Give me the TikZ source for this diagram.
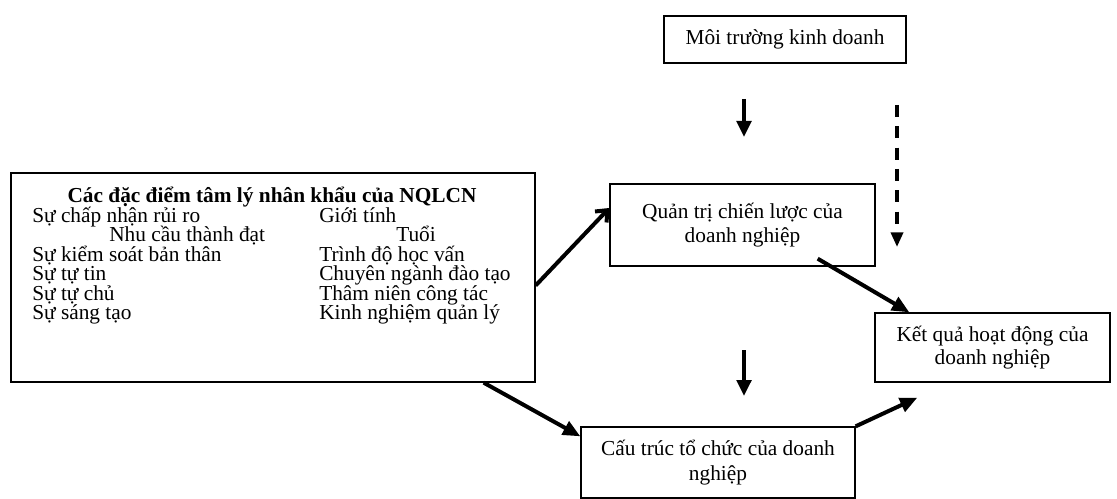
\documentclass[tikz,border=0pt]{standalone}
\usepackage{fontspec}
\setmainfont{Liberation Serif}
\usetikzlibrary{arrows.meta,calc}

\begin{document}
\begin{tikzpicture}[
  x=0.75pt, y=-0.75pt,
  every node/.style={font=\fontsize{16}{20}\selectfont},
  box/.style={rectangle, draw, line width=1pt, align=center, inner sep=0pt},
  item/.style={anchor=base west, inner sep=0pt},
  flow/.style={-{Triangle[length=13pt,width=11pt]}, line width=3pt},
  barb/.style={-{Straight Barb[length=7pt,width=12pt]}, line width=3pt},
  push/.style={-{Triangle[length=12pt,width=11pt]}, line width=2.6pt},
  hint/.style={-{Triangle[length=11pt,width=9pt]}, line width=2.6pt,
               dash pattern=on 9pt off 7pt}
]
\useasboundingbox (0,0) rectangle (1117,499);

\def\colL{32}
\def\colR{319}

% boxes
\node[box, minimum width=242*0.75pt, minimum height=47*0.75pt]
  at (785,39.5) (moitruong) {Môi trường kinh doanh};
\node[box, minimum width=265*0.75pt, minimum height=82*0.75pt]
  at (742.5,225) (quantri) {Quản trị chiến lược của\\[-1.5pt] doanh nghiệp};
\node[box, minimum width=524*0.75pt, minimum height=209*0.75pt]
  at (273,277.5) (dacdiem) {};
\node[box, minimum width=235*0.75pt, minimum height=69*0.75pt]
  at (992.5,347.5) (ketqua) {Kết quả hoạt động của\\[-3pt] doanh nghiệp};
\node[box, minimum width=274*0.75pt, minimum height=71*0.75pt]
  at (718,462.5) (cautruc) {Cấu trúc tổ chức của doanh\\[-1pt] nghiệp};

% contents of the left box
\node[anchor=base, inner sep=0pt] at (272,202) (tieude)
  {\bfseries Các đặc điểm tâm lý nhân khẩu của NQLCN};
\node[item] at (\colL,222) (l1) {Sự chấp nhận rủi ro};
\node[item] at (109,241)   (l2) {Nhu cầu thành đạt};
\node[item] at (\colL,261) (l3) {Sự kiểm soát bản thân};
\node[item] at (\colL,280) (l4) {Sự tự tin};
\node[item] at (\colL,300) (l5) {Sự tự chủ};
\node[item] at (\colL,319) (l6) {Sự sáng tạo};
\node[item] at (\colR,222) (r1) {Giới tính};
\node[item] at (396,241)   (r2) {Tuổi};
\node[item] at (\colR,261) (r3) {Trình độ học vấn};
\node[item] at (\colR,280) (r4) {Chuyên ngành đào tạo};
\node[item] at (\colR,300) (r5) {Thâm niên công tác};
\node[item] at (\colR,319) (r6) {Kinh nghiệm quản lý};

% free ends of the vertical arrows
\coordinate (envA) at (744,99);
\coordinate (envB) at (744,137);
\coordinate (dashA) at (897,105);
\coordinate (dashB) at (897,247);
\coordinate (midA) at (744,350);
\coordinate (midB) at (744,396);

\draw[push] (envA) -- (envB);
\draw[hint] (dashA) -- (dashB);
\draw[push] (midA) -- (midB);

\draw[barb] ($(dacdiem.east)+(0,8)$) -- ($(quantri.west)+(0,-17)$);
\draw[flow] ($(dacdiem.south east)+(-52,0)$) -- ($(cautruc.north west)+(0,10)$);
\draw[flow] ($(quantri.south east)+(-58,-8)$) -- ($(ketqua.north west)+(35,0)$);
\draw[flow] (cautruc.north east) -- ($(ketqua.south west)+(43,15)$);

\end{tikzpicture}
\end{document}
